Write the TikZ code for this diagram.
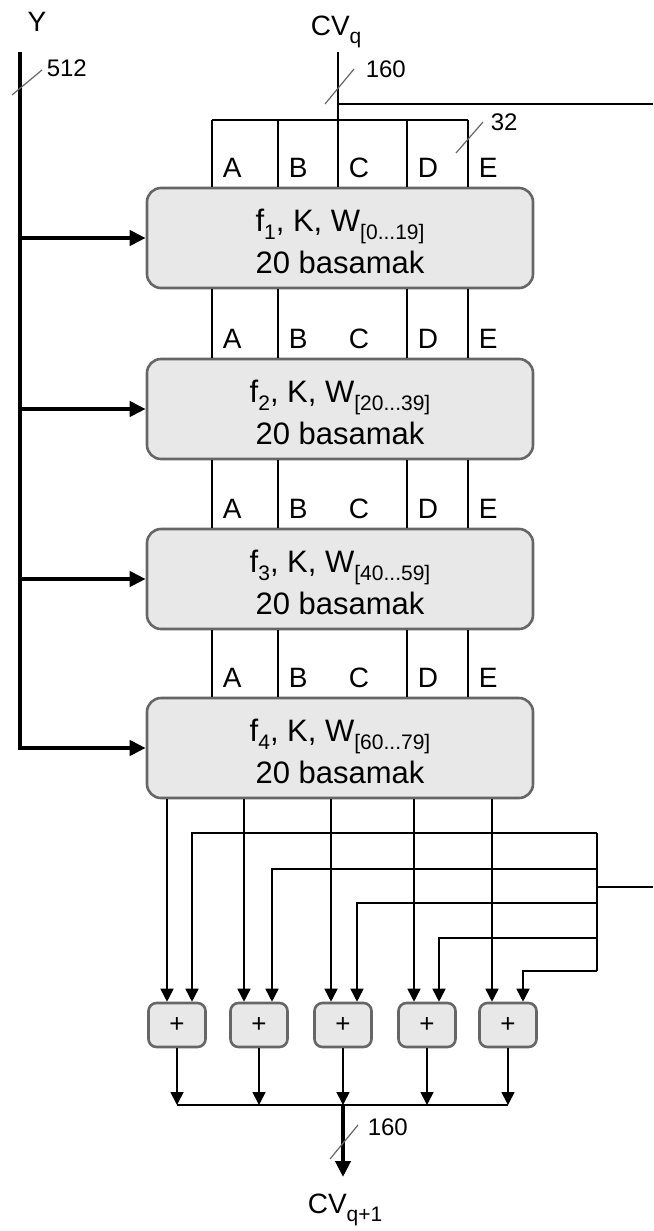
\documentclass[tikz,border=0pt]{standalone}
\usepackage{fontspec}
\setmainfont{Liberation Sans}
\usetikzlibrary{arrows.meta}
\newcommand\idx[1]{\raisebox{-4pt}{\fontsize{10.5}{12}\selectfont #1}}
\tikzset{
	stage/.style={draw=black!60, line width=1.3pt, fill=black!9, rounded corners=7pt,
		minimum width=193pt, minimum height=50pt, align=center,
		font=\fontsize{15.5}{18.5}\selectfont},
	adder/.style={draw=black!60, line width=1.3pt, fill=black!9, rounded corners=4pt,
		minimum width=28.5pt, minimum height=22pt, font=\fontsize{13}{15}\selectfont},
	wire/.style={-{Triangle[width=6.5pt,length=6.5pt]}},
	bus/.style={line width=2pt},
	busarr/.style={bus, line join=miter, -{Triangle[width=7.5pt,length=8pt]}},
	slash/.style={draw=black!60, line width=0.6pt},
	lbl/.style={font=\fontsize{14}{16}\selectfont, inner sep=0pt},
	num/.style={font=\fontsize{12}{14}\selectfont, inner sep=0pt}
}
\begin{document}
\begin{tikzpicture}[x=0.5pt, y=-0.5pt, line width=0.8pt]
	\useasboundingbox (0,0) rectangle (653,1231);
	\foreach \i/\y/\w in {1/238/{0...19},2/409/{20...39},3/579/{40...59},4/748/{60...79}}
		\node[stage] (f\i) at (340,\y) {\rule{0pt}{15pt}f\idx{\i}, K, W\idx{[\w]}\\[2.5pt]20 basamak};
	\foreach \n/\x in {A/212,B/278,C/338,D/407,E/468}
		\coordinate (c\n) at (\x,120);

	\node[lbl, anchor=base] (ylab) at (37,32) {Y};
	\node[lbl, anchor=base west] (cvq) at (310,35) {CV\idx{q}};
	\coordinate (ytop) at (20,52);
	\coordinate (cvin) at (338,52);
	\coordinate (fbtop) at (653,104);
	\coordinate (fbbot) at (653,887);
	\coordinate (fbbus) at (597,887);

	\draw[bus] (ytop) -- (ytop |- f1);
	\foreach \i in {1,2,3}
		\draw[busarr] (ytop |- f\i) -- (f\i.west);
	\draw[busarr] (ytop |- f1) -- (ytop |- f4) -- (f4.west);
	\draw[slash] (12,95) -- (42,70);
	\node[num, anchor=base west] (n512) at (46,76) {512};

	\draw (cvin) -- (cvin |- f1.north);
	\draw (cvin |- fbtop) -- (fbtop);
	\draw[slash] (325,104) -- (354,69);
	\node[num, anchor=base west] (n160) at (365,77) {160};
	\draw (cA) -- (cE);
	\foreach \n in {A,B,D,E}
		\draw (c\n) -- (c\n |- f1.north);
	\draw[slash] (456,153) -- (483,122);
	\node[num, anchor=base west] (n32) at (490,130) {32};
	\foreach \i/\j in {1/2,2/3,3/4}
		\foreach \n in {A,B,D,E}
			\draw (f\i.south -| c\n) -- (f\j.north -| c\n);
	\foreach \i in {1,...,4}
		\foreach \n in {A,B,C,D,E}
			\node[lbl, anchor=base west, xshift=5pt, yshift=4.5pt] (l\n\i) at (f\i.north -| c\n) {\n};

	\foreach \i/\x in {1/177,2/259,3/343,4/427,5/508}
		\node[adder] (s\i) at (\x,1025) {+};
	\foreach \i/\x in {1/167,2/244,3/331,4/414,5/492}
		\draw[wire] (f4.south -| \x,0) -- (s\i.north -| \x,0);
	\draw (fbbot) -- (fbbus);
	\draw (597,833) -- (597,971);
	\foreach \i/\x/\y in {1/192/833,2/272/869,3/357/903,4/439/938,5/523/971}
		\draw[wire] (597,\y) -- (\x,\y) -- (s\i.north -| \x,0);

	\coordinate (sum) at (343,1105);
	\coordinate (cvout) at (343,1177);
	\foreach \i in {1,...,5}
		\draw[wire] (s\i.south) -- (s\i.south |- sum);
	\draw (s1.south |- sum) -- (s5.south |- sum);
	\draw[busarr] (sum) -- (cvout);
	\draw[slash] (330,1159) -- (358,1125);
	\node[num, anchor=base west] (n160b) at (367,1135) {160};
	\node[lbl, anchor=base west] (cvq1) at (307,1213) {CV\idx{q+1}};
\end{tikzpicture}
\end{document}
